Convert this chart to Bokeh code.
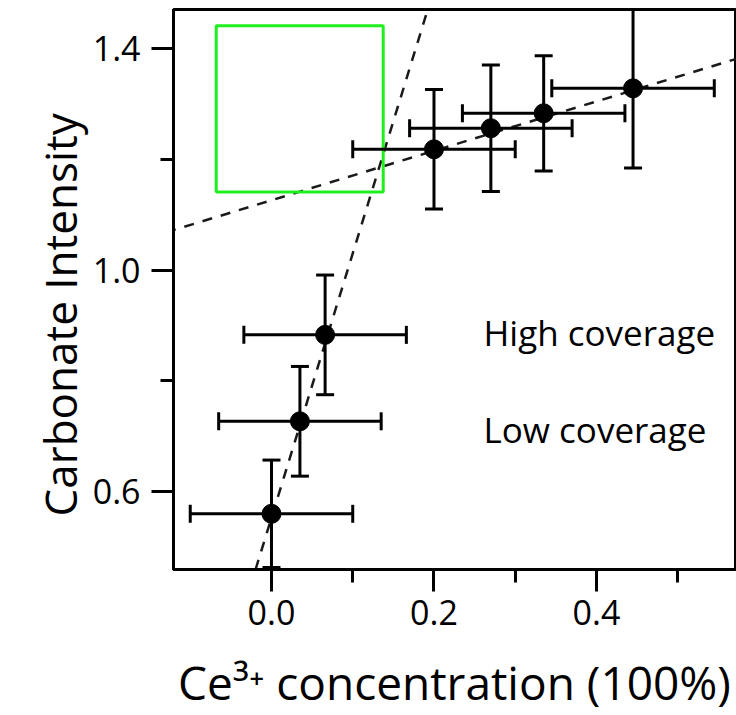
import numpy as np
from bokeh.plotting import figure
from bokeh.models import FixedTicker, PrintfTickFormatter, Label, Slope, Range1d, Title
from bokeh.embed import file_html
from bokeh.resources import INLINE

# ---- data ----
ce3 = [0.000, 0.035, 0.066, 0.200, 0.270, 0.335, 0.445]
carbonate = [0.560, 0.727, 0.883, 1.218, 1.256, 1.283, 1.328]
ce3_err = [0.100, 0.100, 0.100, 0.100, 0.100, 0.100, 0.100]
carbonate_err = [0.097, 0.099, 0.108, 0.108, 0.114, 0.104, 0.144]

low_fit_gradient, low_fit_intercept = 4.77, 0.553
high_fit_gradient, high_fit_intercept = 0.446, 1.126

box_x = [-0.068, 0.1375]
box_y = [1.141, 1.441]

x_ticks = [0.0, 0.2, 0.4]
x_minor_ticks = [0.1, 0.3, 0.5]
y_ticks = [0.6, 1.0, 1.4]
y_minor_ticks = [0.8, 1.2]

FONT = "Open Sans"

x = np.array(ce3)
y = np.array(carbonate)
xe = np.array(ce3_err)
ye = np.array(carbonate_err)

p = figure(width=736, height=715,
           x_range=Range1d(-0.1206, 0.5711), y_range=Range1d(0.4595, 1.4703),
           output_backend="svg", toolbar_location=None,
           min_border_left=173, min_border_right=1,
           min_border_top=9, min_border_bottom=145)

p.grid.visible = False
p.outline_line_color = "black"
p.outline_line_width = 3
p.outline_line_alpha = 1.0
p.background_fill_color = "white"
p.border_fill_color = "white"

p.xaxis.ticker = FixedTicker(ticks=x_ticks, minor_ticks=x_minor_ticks)
p.yaxis.ticker = FixedTicker(ticks=y_ticks, minor_ticks=y_minor_ticks)
for ax in (p.xaxis[0], p.yaxis[0]):
    ax.formatter = PrintfTickFormatter(format="%.1f")
    ax.axis_line_width = 3
    ax.axis_line_color = "black"
    ax.major_tick_line_width = 3
    ax.minor_tick_line_width = 3
    ax.major_tick_line_color = "black"
    ax.minor_tick_line_color = "black"
    ax.major_tick_out = 22
    ax.major_tick_in = 0
    ax.minor_tick_out = 13
    ax.minor_tick_in = 0
    ax.major_label_text_font = FONT
    ax.major_label_text_font_size = "34px"
    ax.major_label_text_color = "black"

p.xaxis.major_label_standoff = 8
p.yaxis.major_label_standoff = 11
p.xaxis.axis_label = "Ce³⁺ concentration (100%)"
p.xaxis.axis_label_text_font = FONT
p.xaxis.axis_label_text_font_size = "46px"
p.xaxis.axis_label_text_font_style = "normal"
p.xaxis.axis_label_text_color = "black"
p.xaxis.axis_label_standoff = 23

# y-axis title, placed as a left-side title so it can be shifted along the frame
p.add_layout(Title(text="Carbonate Intensity", align="left", offset=53,
                   text_font=FONT, text_font_size="44px", text_font_style="normal",
                   text_color="black", standoff=0), "left")

# fit lines
p.add_layout(Slope(gradient=low_fit_gradient, y_intercept=low_fit_intercept,
                   line_color="#1a1a1a", line_width=2.5, line_dash="10 9",
                   level="underlay"))
p.add_layout(Slope(gradient=high_fit_gradient, y_intercept=high_fit_intercept,
                   line_color="#1a1a1a", line_width=2.5, line_dash="10 9",
                   level="underlay"))

# green box
p.quad(left=[box_x[0]], right=[box_x[1]], bottom=[box_y[0]], top=[box_y[1]],
       fill_alpha=0, line_color="#1ef01e", line_width=3)

# error bars
p.segment(x0=x - xe, x1=x + xe, y0=y, y1=y, line_color="black", line_width=3)
p.segment(x0=x, x1=x, y0=y - ye, y1=y + ye, line_color="black", line_width=3)
p.scatter(x=np.concatenate([x - xe, x + xe]), y=np.concatenate([y, y]),
          marker="dash", size=18, angle=np.pi / 2, line_color="black", line_width=3)
p.scatter(x=np.concatenate([x, x]), y=np.concatenate([y - ye, y + ye]),
          marker="dash", size=18, line_color="black", line_width=3)

# points
p.scatter(x=x, y=y, size=19, fill_color="black", line_color="black")

# texts
p.add_layout(Label(x=0.261, y=0.887, text="High coverage", text_font=FONT,
                   text_font_size="35px", text_baseline="alphabetic", text_color="black"))
p.add_layout(Label(x=0.261, y=0.712, text="Low coverage", text_font=FONT,
                   text_font_size="35px", text_baseline="alphabetic", text_color="black"))

open("out.html", "w").write(file_html(p, INLINE))
